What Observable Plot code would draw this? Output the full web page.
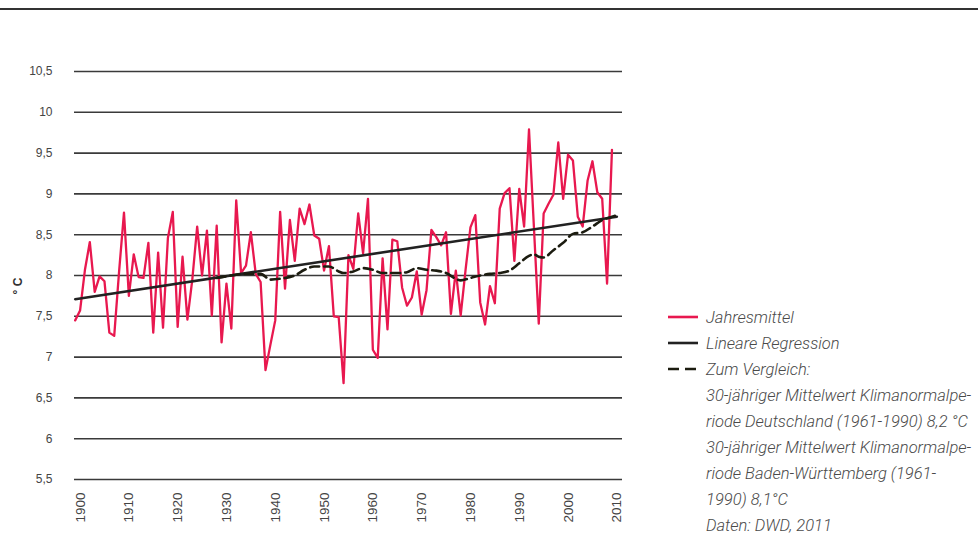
<!DOCTYPE html>
<html><head><meta charset="utf-8">
<script src="https://cdn.jsdelivr.net/npm/d3@7"></script>
<script src="https://cdn.jsdelivr.net/npm/@observablehq/plot@0.6"></script>
<style>
body{margin:0;background:#fff;font-family:"Liberation Sans",Arial,sans-serif;}
#wrap{position:relative;width:978px;height:536px;overflow:hidden;}
#rule{position:absolute;left:0;top:8px;width:978px;height:2px;background:#333;}
#chart{position:absolute;left:0;top:0;}
#legend{position:absolute;left:668px;top:304px;font-family:Roboto,"Liberation Sans",sans-serif;font-weight:300;font-style:italic;font-size:16.5px;color:#4a4a4a;}
.row{display:flex;align-items:center;height:26px;white-space:nowrap;}
.sw{width:30px;height:6px;margin-right:8px;flex:none;}
.ind{padding-left:38px;}
</style></head>
<body>
<div id="wrap"><div id="rule"></div><div id="chart"></div><div id="legend"></div></div>
<script>
// Categories
const years = d3.range(1901, 2012);
// Annual mean temperature (°C), Baden-Württemberg, 1901–2011
const annualMean = [
  7.45, 7.57, 8.07, 8.41, 7.80, 7.99, 7.93, 7.30, 7.26, 8.05,
  8.77, 7.75, 8.26, 7.98, 7.97, 8.40, 7.30, 8.28, 7.36, 8.46,
  8.78, 7.37, 8.23, 7.46, 7.95, 8.60, 8.00, 8.55, 7.51, 8.61,
  7.18, 7.90, 7.35, 8.92, 8.03, 8.12, 8.53, 8.02, 7.92, 6.84,
  7.15, 7.45, 8.78, 7.84, 8.68, 8.18, 8.82, 8.63, 8.87, 8.49,
  8.45, 8.06, 8.36, 7.50, 7.49, 6.68, 8.25, 8.08, 8.76, 8.27,
  8.94, 7.09, 6.99, 8.21, 7.34, 8.44, 8.42, 7.85, 7.63, 7.73,
  8.05, 7.52, 7.82, 8.56, 8.47, 8.37, 8.53, 7.53, 8.06, 7.51,
  8.07, 8.59, 8.74, 7.67, 7.40, 7.87, 7.66, 8.82, 9.01, 9.07,
  8.18, 9.06, 8.60, 9.79, 8.60, 7.41, 8.76, 8.88, 8.99, 9.63,
  8.94, 9.48, 9.41, 8.72, 8.60, 9.16, 9.40, 9.02, 8.94, 7.90,
  9.54
];
// Linear regression end points
const regYears = [1901, 2012];
const regValues = [7.71, 8.72];
// 30-year mean (comparison)
const cmpYears = [1930, 1933, 1936, 1939, 1941, 1943, 1946, 1948, 1950, 1953, 1955, 1956, 1958, 1960, 1962, 1964, 1967, 1969, 1971, 1973, 1975, 1977, 1979, 1980, 1982, 1984, 1986, 1988, 1990, 1992, 1994, 1995, 1996, 1997, 1999, 2001, 2003, 2005, 2007, 2009, 2011, 2012];
const cmpValues = [7.97, 8.00, 8.02, 8.02, 7.95, 7.96, 8.00, 8.07, 8.11, 8.11, 8.05, 8.03, 8.05, 8.09, 8.07, 8.03, 8.03, 8.04, 8.09, 8.07, 8.06, 8.03, 7.96, 7.94, 7.97, 8.00, 8.02, 8.03, 8.06, 8.15, 8.24, 8.26, 8.23, 8.22, 8.31, 8.40, 8.51, 8.53, 8.60, 8.68, 8.72, 8.74];
// Ticks
const yTicks = [5.5, 6, 6.5, 7, 7.5, 8, 8.5, 9, 9.5, 10, 10.5];
const xTicks = [1900, 1910, 1920, 1930, 1940, 1950, 1960, 1970, 1980, 1990, 2000, 2010];
const legendItems = ["Jahresmittel", "Lineare Regression", "Zum Vergleich:"];
const legendNotes = [
  "30-jähriger Mittelwert Klimanormalpe-",
  "riode Deutschland (1961-1990) 8,2 °C",
  "30-jähriger Mittelwert Klimanormalpe-",
  "riode Baden-Württemberg (1961-",
  "1990) 8,1°C",
  "Daten: DWD, 2011"
];

const annual = years.map((y, i) => ({year: y, value: annualMean[i]}));
const reg = regYears.map((y, i) => ({year: y, value: regValues[i]}));
const cmp = cmpYears.map((y, i) => ({year: y, value: cmpValues[i]}));
const RED = "#e8184f", BLACK = "#222", DASH = "#1c1c10";

const chart = Plot.plot({
  width: 640, height: 536,
  marginLeft: 74, marginRight: 18, marginTop: 71, marginBottom: 57,
  style: {fontFamily: "'Liberation Sans', Arial, sans-serif", fontSize: "12px", color: "#444", background: "transparent"},
  x: {type: "linear", domain: [1900.86, 2013.16]},
  y: {domain: [5.5, 10.5]},
  marks: [
    Plot.gridY(yTicks, {stroke: "#3a3a3a", strokeOpacity: 1, strokeWidth: 1.6}),
    Plot.axisY(yTicks, {tickSize: 0, tickPadding: 22, label: null, fontSize: 12, tickFormat: d => String(d).replace(".", ",")}),
    Plot.axisX(xTicks, {tickSize: 0, tickPadding: 13, tickRotate: -90, dx: 10, label: null, fontSize: 13.5, tickFormat: d => String(d)}),
    Plot.text(["° C"], {frameAnchor: "left", dx: -56, dy: 19, rotate: -90, fontWeight: "bold", fontSize: 12, fill: "#333"}),
    Plot.line(annual, {x: "year", y: "value", stroke: RED, strokeWidth: 2.3}),
    Plot.line(reg, {x: "year", y: "value", stroke: BLACK, strokeWidth: 2.6}),
    Plot.line(cmp, {x: "year", y: "value", stroke: DASH, strokeWidth: 2.6, strokeDasharray: "9,5", curve: "monotone-x"})
  ]
});
document.getElementById("chart").appendChild(chart);

const lg = document.getElementById("legend");
const swatches = [
  `<svg class="sw" viewBox="0 0 30 6"><line x1="0" x2="30" y1="3" y2="3" stroke="${RED}" stroke-width="2.6"/></svg>`,
  `<svg class="sw" viewBox="0 0 30 6"><line x1="0" x2="30" y1="3" y2="3" stroke="${BLACK}" stroke-width="2.6"/></svg>`,
  `<svg class="sw" viewBox="0 0 30 6"><line x1="0" x2="30" y1="3" y2="3" stroke="${DASH}" stroke-width="2.6" stroke-dasharray="11,6"/></svg>`
];
legendItems.forEach((t, i) => {
  const r = document.createElement("div"); r.className = "row";
  r.innerHTML = swatches[i] + `<span>${t}</span>`;
  lg.appendChild(r);
});
legendNotes.forEach(t => {
  const r = document.createElement("div"); r.className = "row ind";
  r.textContent = t; lg.appendChild(r);
});
</script>
</body></html>
